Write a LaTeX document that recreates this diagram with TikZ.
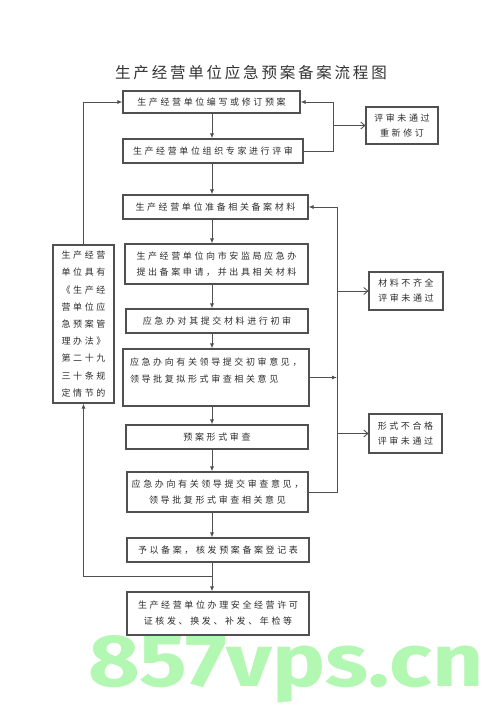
\documentclass[tikz,border=0pt]{standalone}
\usepackage{fontspec}
\usepackage{graphicx}
\usepackage{xcolor}
\usepackage{tikz}
\usetikzlibrary{arrows.meta,positioning,calc}
\newfontfamily\zhfont[LetterSpace=29]{Noto Sans CJK SC}
\newfontfamily\zhtitle[LetterSpace=18]{Noto Sans CJK SC}
\newfontfamily\wmfont{Fira Sans}
\definecolor{linegray}{RGB}{80,80,80}
\definecolor{textgray}{RGB}{45,45,45}
\definecolor{wmgreen}{RGB}{178,248,178}

\begin{document}
\begin{tikzpicture}[
  x=1pt, y=-1pt,
  >={Latex[length=5pt,width=4pt]},
  box/.style={draw=linegray, line width=1.1pt, align=center, inner sep=0pt, text=textgray,
    font=\zhfont\fontsize{9}{16}\selectfont},
  sidebox/.style={box, font=\zhfont\fontsize{9}{15}\selectfont},
  flow/.style={draw=linegray, line width=0.9pt},
  nogo/.style={flow, -{Straight Barb[length=4pt,width=7pt]}}
]
\useasboundingbox (0,0) rectangle (500,708);
\fill[white] (0,0) rectangle (500,708);

\node[anchor=base west, inner sep=0pt, text=wmgreen] (wmark) at (88,686)
  {\resizebox{395pt}{51pt}{\wmfont\bfseries 857vps.cn}};

\node[font=\zhtitle\fontsize{15.5}{16}\selectfont, text=black!80] (title) at (251,73)
  {生产经营单位应急预案备案流程图};

\node[box, minimum width=177, minimum height=22] (edit) at (211.5,102)
  {生产经营单位编写或修订预案};
\node[box, minimum width=180, minimum height=24] (review) at (213,151)
  {生产经营单位组织专家进行评审};
\node[box, minimum width=185, minimum height=24] (prepare) at (215.5,207)
  {生产经营单位准备相关备案材料};
\node[box, minimum width=183, minimum height=40] (apply) at (216.5,264)
  {生产经营单位向市安监局应急办\\提出备案申请，并出具相关材料};
\node[box, minimum width=182, minimum height=24] (check) at (217,321)
  {应急办对其提交材料进行初审};
\node[box, minimum width=186, minimum height=57, inner xsep=7pt,
  font=\zhfont\fontsize{9}{17}\selectfont] (report) at (216,377.5)
  {\begin{minipage}[c][57pt][t]{172pt}\vspace*{9pt}应急办向有关领导提交初审意见，\\领导批复拟形式审查相关意见\end{minipage}};
\node[box, minimum width=182, minimum height=24] (formal) at (217,437)
  {预案形式审查};
\node[box, minimum width=181, minimum height=40] (submit) at (217.5,492)
  {应急办向有关领导提交审查意见，\\领导批复形式审查相关意见};
\node[box, minimum width=182, minimum height=24] (record) at (218,550)
  {予以备案，核发预案备案登记表};
\node[box, minimum width=182, minimum height=43] (permit) at (218,613.5)
  {生产经营单位办理安全经营许可\\证核发、换发、补发、年检等};

\node[box, minimum width=61, minimum height=158,
  font=\zhfont\fontsize{9}{17.2}\selectfont] (law) at (83.5,324)
  {生产经营\\单位具有\\《生产经\\营单位应\\急预案管\\理办法》\\第二十九\\三十条规\\定情节的};

\node[sidebox, minimum width=72, minimum height=37] (redo) at (402,125.5)
  {评审未通过\\重新修订};
\node[sidebox, minimum width=74, minimum height=38] (lack) at (406,291)
  {材料不齐全\\评审未通过};
\node[sidebox, minimum width=73, minimum height=39] (unfit) at (405.5,433.5)
  {形式不合格\\评审未通过};

\coordinate (spine) at (212,0);
\coordinate (rtop) at (333,0);
\coordinate (rlow) at (337,0);
\coordinate (back) at (212,576);

\foreach \a/\b in {edit/review, review/prepare, prepare/apply, apply/check, check/report,
  report/formal, formal/submit, submit/record, record/permit}
  \draw[flow, ->] (\a.south -| spine) -- (\b.north -| spine);

\draw[flow, ->] (law.north) |- (edit.west);
\draw[flow, ->] (back) -| (law.south);

\draw[flow, ->] (review.east) -- (review.east -| rtop) |- (edit.east);
\draw[nogo] (rtop |- redo.west) -- (redo.west);

\draw[flow, ->] (submit.east) -- (submit.east -| rlow) |- (prepare.east);
\draw[flow, ->] (report.east) -- (report.east -| rlow);
\draw[nogo] (rlow |- lack.west) -- (lack.west);
\draw[nogo] (rlow |- unfit.west) -- (unfit.west);
\end{tikzpicture}
\end{document}
